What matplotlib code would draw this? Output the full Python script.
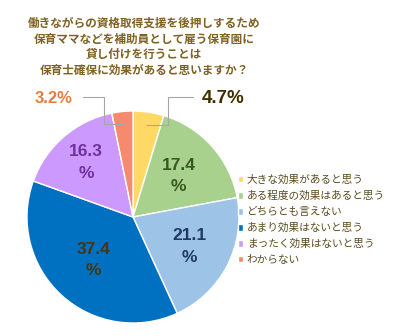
import matplotlib
matplotlib.use('Agg')
import matplotlib.pyplot as plt
import numpy as np

plt.rcParams['font.family'] = ['Noto Sans CJK JP', 'DejaVu Sans']

# survey answers, clockwise from 12 o'clock
answers = ['大きな効果があると思う', 'ある程度の効果はあると思う', 'どちらとも言えない',
           'あまり効果はないと思う', 'まったく効果はないと思う', 'わからない']
shares = [4.7, 17.4, 21.1, 37.4, 16.3, 3.2]
slice_colors = ['#FFD966', '#A9D18E', '#9DC3E6', '#0070C0', '#CC99FF', '#F58A6C']
label_colors = ['#3D3000', '#385723', '#1F3864', '#403818', '#7030A0', '#E97B3C']
title = ('働きながらの資格取得支援を後押しするため\n保育ママなどを補助員として雇う保育園に\n'
         '貸し付けを行うことは\n保育士確保に効果があると思いますか？')

W, H = 400, 336
cx, cy, R = 133, 217, 106   # pie centre / radius in pixels

fig = plt.figure(figsize=(W / 100, H / 100), dpi=100)
ax = fig.add_axes([0, 0, 1, 1])

wedges, _ = ax.pie(shares, colors=slice_colors, startangle=90, counterclock=False,
                   radius=1, wedgeprops=dict(edgecolor='white', linewidth=1))
ax.set_xlim(-cx / R, (W - cx) / R)
ax.set_ylim((cy - H) / R, cy / R)
ax.set_aspect('equal')
ax.axis('off')

# slice labels: large ones inside, small ones outside with elbow leaders
inner_r = {1: 0.58, 2: 0.6, 3: 0.55, 4: 0.68}
elbows = {0: (0.33, 0.57, 0.85), 5: (-0.27, -0.47, -0.75)}
line_y = 1.135
for i, w in enumerate(wedges):
    mid = np.deg2rad((w.theta1 + w.theta2) / 2)
    if i in inner_r:
        r = inner_r[i]
        ax.text(r * np.cos(mid), r * np.sin(mid), f'{shares[i]}\n%', ha='center', va='center',
                fontsize=12.5, fontweight='bold', color=label_colors[i], linespacing=1.55,
                family='Liberation Sans')
    else:
        ex, lx, tx = elbows[i]
        px, py = 0.88 * np.cos(mid), 0.88 * np.sin(mid)
        ax.plot([px, ex, ex, lx], [py, py, line_y, line_y], color='#A6A6A6', lw=0.8)
        ax.text(tx, line_y - 0.02, f'{shares[i]}%', ha='center', va='center',
                fontsize=13.5 if i == 0 else 12, fontweight='bold', color=label_colors[i],
                family='Liberation Sans')

fig.text(144 / W, 1 - 47 / H, title, ha='center', va='center', fontsize=8.4,
         color='#7F6122', linespacing=1.28, fontweight='bold')

leg = fig.legend(wedges, answers, loc='upper left', bbox_to_anchor=(238 / W, 1 - 175 / H),
                 frameon=False, fontsize=7.7, handlelength=0.5, handleheight=0.5,
                 handletextpad=0.3, labelspacing=0.55, borderaxespad=0, borderpad=0)
for t in leg.get_texts():
    t.set_color('#5C4A1E')

fig.savefig('out.png', dpi=100, facecolor='white')
